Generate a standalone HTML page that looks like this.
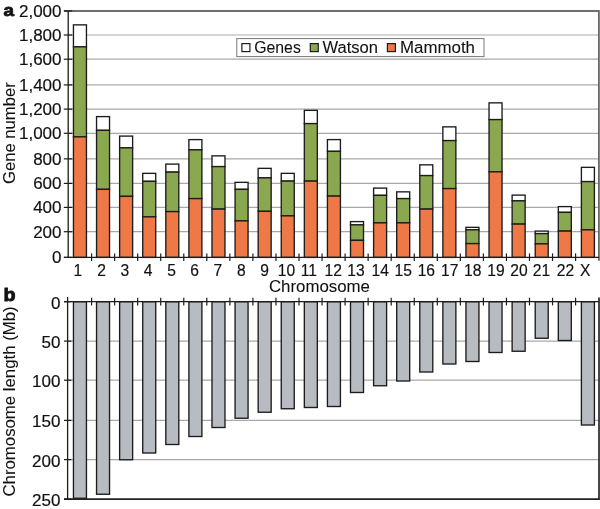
<!DOCTYPE html><html><head><meta charset="utf-8"><title>Gene number and chromosome length</title><style>html,body{margin:0;padding:0;background:#fff;overflow:hidden}svg{display:block}text{font-family:"Liberation Sans",Arial,Helvetica,sans-serif;fill:#111;stroke:#111;stroke-width:0.18px}text.t{stroke-width:0.08px}</style></head><body>
<svg width="600" height="509" viewBox="0 0 600 509">
<rect width="600" height="509" fill="#fff"/>
<line x1="68.2" y1="35.0" x2="599.2" y2="35.0" stroke="#a9a9a9" stroke-width="1.2"/>
<line x1="68.2" y1="59.2" x2="599.2" y2="59.2" stroke="#a9a9a9" stroke-width="1.2"/>
<line x1="68.2" y1="84.9" x2="599.2" y2="84.9" stroke="#a9a9a9" stroke-width="1.2"/>
<line x1="68.2" y1="109.1" x2="599.2" y2="109.1" stroke="#a9a9a9" stroke-width="1.2"/>
<line x1="68.2" y1="133.3" x2="599.2" y2="133.3" stroke="#a9a9a9" stroke-width="1.2"/>
<line x1="68.2" y1="158.85" x2="599.2" y2="158.85" stroke="#a9a9a9" stroke-width="1.2"/>
<line x1="68.2" y1="183.4" x2="599.2" y2="183.4" stroke="#a9a9a9" stroke-width="1.2"/>
<line x1="68.2" y1="207.4" x2="599.2" y2="207.4" stroke="#a9a9a9" stroke-width="1.2"/>
<line x1="68.2" y1="231.7" x2="599.2" y2="231.7" stroke="#a9a9a9" stroke-width="1.2"/>
<rect x="236.8" y="38.6" width="247.2" height="18.0" fill="#fff" stroke="#777" stroke-width="1"/>
<rect x="241.9" y="43.6" width="8" height="8" fill="#fff" stroke="#1c1c1c" stroke-width="1.2"/>
<text class="t" x="254.2" y="52.8" font-size="16" textLength="46.6" lengthAdjust="spacingAndGlyphs">Genes</text>
<rect x="310.3" y="43.6" width="8" height="8" fill="#8aa84f" stroke="#1c1c1c" stroke-width="1.2"/>
<text class="t" x="322.5" y="52.8" font-size="16" textLength="55.5" lengthAdjust="spacingAndGlyphs">Watson</text>
<rect x="387.40000000000003" y="43.6" width="8" height="8" fill="#ee7846" stroke="#1c1c1c" stroke-width="1.2"/>
<text class="t" x="400.0" y="52.8" font-size="16" textLength="75.0" lengthAdjust="spacingAndGlyphs">Mammoth</text>
<rect x="73.45" y="24.85" width="13.0" height="22.00" fill="#fff" stroke="#1c1c1c" stroke-width="1.35"/>
<rect x="73.45" y="46.85" width="13.0" height="90.00" fill="#8aa84f" stroke="#1c1c1c" stroke-width="1.35"/>
<rect x="73.45" y="136.85" width="13.0" height="120.55" fill="#ee7846" stroke="#1c1c1c" stroke-width="1.35"/>
<rect x="96.54" y="116.6" width="13.0" height="13.75" fill="#fff" stroke="#1c1c1c" stroke-width="1.35"/>
<rect x="96.54" y="130.35" width="13.0" height="59.00" fill="#8aa84f" stroke="#1c1c1c" stroke-width="1.35"/>
<rect x="96.54" y="189.35" width="13.0" height="68.05" fill="#ee7846" stroke="#1c1c1c" stroke-width="1.35"/>
<rect x="119.63" y="136.1" width="13.0" height="11.75" fill="#fff" stroke="#1c1c1c" stroke-width="1.35"/>
<rect x="119.63" y="147.85" width="13.0" height="48.50" fill="#8aa84f" stroke="#1c1c1c" stroke-width="1.35"/>
<rect x="119.63" y="196.35" width="13.0" height="61.05" fill="#ee7846" stroke="#1c1c1c" stroke-width="1.35"/>
<rect x="142.72" y="173.35" width="13.0" height="8.00" fill="#fff" stroke="#1c1c1c" stroke-width="1.35"/>
<rect x="142.72" y="181.35" width="13.0" height="35.50" fill="#8aa84f" stroke="#1c1c1c" stroke-width="1.35"/>
<rect x="142.72" y="216.85" width="13.0" height="40.55" fill="#ee7846" stroke="#1c1c1c" stroke-width="1.35"/>
<rect x="165.80" y="164.1" width="13.0" height="8.00" fill="#fff" stroke="#1c1c1c" stroke-width="1.35"/>
<rect x="165.80" y="172.1" width="13.0" height="39.50" fill="#8aa84f" stroke="#1c1c1c" stroke-width="1.35"/>
<rect x="165.80" y="211.6" width="13.0" height="45.80" fill="#ee7846" stroke="#1c1c1c" stroke-width="1.35"/>
<rect x="188.89" y="139.6" width="13.0" height="10.25" fill="#fff" stroke="#1c1c1c" stroke-width="1.35"/>
<rect x="188.89" y="149.85" width="13.0" height="48.75" fill="#8aa84f" stroke="#1c1c1c" stroke-width="1.35"/>
<rect x="188.89" y="198.6" width="13.0" height="58.80" fill="#ee7846" stroke="#1c1c1c" stroke-width="1.35"/>
<rect x="211.98" y="155.85" width="13.0" height="10.75" fill="#fff" stroke="#1c1c1c" stroke-width="1.35"/>
<rect x="211.98" y="166.6" width="13.0" height="42.50" fill="#8aa84f" stroke="#1c1c1c" stroke-width="1.35"/>
<rect x="211.98" y="209.1" width="13.0" height="48.30" fill="#ee7846" stroke="#1c1c1c" stroke-width="1.35"/>
<rect x="235.07" y="182.35" width="13.0" height="7.00" fill="#fff" stroke="#1c1c1c" stroke-width="1.35"/>
<rect x="235.07" y="189.35" width="13.0" height="31.50" fill="#8aa84f" stroke="#1c1c1c" stroke-width="1.35"/>
<rect x="235.07" y="220.85" width="13.0" height="36.55" fill="#ee7846" stroke="#1c1c1c" stroke-width="1.35"/>
<rect x="258.16" y="168.35" width="13.0" height="9.50" fill="#fff" stroke="#1c1c1c" stroke-width="1.35"/>
<rect x="258.16" y="177.85" width="13.0" height="33.50" fill="#8aa84f" stroke="#1c1c1c" stroke-width="1.35"/>
<rect x="258.16" y="211.35" width="13.0" height="46.05" fill="#ee7846" stroke="#1c1c1c" stroke-width="1.35"/>
<rect x="281.25" y="173.35" width="13.0" height="7.75" fill="#fff" stroke="#1c1c1c" stroke-width="1.35"/>
<rect x="281.25" y="181.1" width="13.0" height="34.75" fill="#8aa84f" stroke="#1c1c1c" stroke-width="1.35"/>
<rect x="281.25" y="215.85" width="13.0" height="41.55" fill="#ee7846" stroke="#1c1c1c" stroke-width="1.35"/>
<rect x="304.33" y="110.35" width="13.0" height="13.25" fill="#fff" stroke="#1c1c1c" stroke-width="1.35"/>
<rect x="304.33" y="123.6" width="13.0" height="57.50" fill="#8aa84f" stroke="#1c1c1c" stroke-width="1.35"/>
<rect x="304.33" y="181.1" width="13.0" height="76.30" fill="#ee7846" stroke="#1c1c1c" stroke-width="1.35"/>
<rect x="327.42" y="139.6" width="13.0" height="11.75" fill="#fff" stroke="#1c1c1c" stroke-width="1.35"/>
<rect x="327.42" y="151.35" width="13.0" height="44.75" fill="#8aa84f" stroke="#1c1c1c" stroke-width="1.35"/>
<rect x="327.42" y="196.1" width="13.0" height="61.30" fill="#ee7846" stroke="#1c1c1c" stroke-width="1.35"/>
<rect x="350.51" y="221.6" width="13.0" height="3.25" fill="#fff" stroke="#1c1c1c" stroke-width="1.35"/>
<rect x="350.51" y="224.85" width="13.0" height="15.50" fill="#8aa84f" stroke="#1c1c1c" stroke-width="1.35"/>
<rect x="350.51" y="240.35" width="13.0" height="17.05" fill="#ee7846" stroke="#1c1c1c" stroke-width="1.35"/>
<rect x="373.60" y="188.1" width="13.0" height="7.25" fill="#fff" stroke="#1c1c1c" stroke-width="1.35"/>
<rect x="373.60" y="195.35" width="13.0" height="27.50" fill="#8aa84f" stroke="#1c1c1c" stroke-width="1.35"/>
<rect x="373.60" y="222.85" width="13.0" height="34.55" fill="#ee7846" stroke="#1c1c1c" stroke-width="1.35"/>
<rect x="396.69" y="191.85" width="13.0" height="6.75" fill="#fff" stroke="#1c1c1c" stroke-width="1.35"/>
<rect x="396.69" y="198.6" width="13.0" height="24.25" fill="#8aa84f" stroke="#1c1c1c" stroke-width="1.35"/>
<rect x="396.69" y="222.85" width="13.0" height="34.55" fill="#ee7846" stroke="#1c1c1c" stroke-width="1.35"/>
<rect x="419.78" y="164.85" width="13.0" height="10.75" fill="#fff" stroke="#1c1c1c" stroke-width="1.35"/>
<rect x="419.78" y="175.6" width="13.0" height="33.50" fill="#8aa84f" stroke="#1c1c1c" stroke-width="1.35"/>
<rect x="419.78" y="209.1" width="13.0" height="48.30" fill="#ee7846" stroke="#1c1c1c" stroke-width="1.35"/>
<rect x="442.87" y="126.85" width="13.0" height="13.75" fill="#fff" stroke="#1c1c1c" stroke-width="1.35"/>
<rect x="442.87" y="140.6" width="13.0" height="48.00" fill="#8aa84f" stroke="#1c1c1c" stroke-width="1.35"/>
<rect x="442.87" y="188.6" width="13.0" height="68.80" fill="#ee7846" stroke="#1c1c1c" stroke-width="1.35"/>
<rect x="465.95" y="227.35" width="13.0" height="2.50" fill="#fff" stroke="#1c1c1c" stroke-width="1.35"/>
<rect x="465.95" y="229.85" width="13.0" height="13.75" fill="#8aa84f" stroke="#1c1c1c" stroke-width="1.35"/>
<rect x="465.95" y="243.6" width="13.0" height="13.80" fill="#ee7846" stroke="#1c1c1c" stroke-width="1.35"/>
<rect x="489.04" y="102.85" width="13.0" height="16.75" fill="#fff" stroke="#1c1c1c" stroke-width="1.35"/>
<rect x="489.04" y="119.6" width="13.0" height="52.25" fill="#8aa84f" stroke="#1c1c1c" stroke-width="1.35"/>
<rect x="489.04" y="171.85" width="13.0" height="85.55" fill="#ee7846" stroke="#1c1c1c" stroke-width="1.35"/>
<rect x="512.13" y="195.1" width="13.0" height="5.75" fill="#fff" stroke="#1c1c1c" stroke-width="1.35"/>
<rect x="512.13" y="200.85" width="13.0" height="23.25" fill="#8aa84f" stroke="#1c1c1c" stroke-width="1.35"/>
<rect x="512.13" y="224.1" width="13.0" height="33.30" fill="#ee7846" stroke="#1c1c1c" stroke-width="1.35"/>
<rect x="535.22" y="231.1" width="13.0" height="2.50" fill="#fff" stroke="#1c1c1c" stroke-width="1.35"/>
<rect x="535.22" y="233.6" width="13.0" height="10.25" fill="#8aa84f" stroke="#1c1c1c" stroke-width="1.35"/>
<rect x="535.22" y="243.85" width="13.0" height="13.55" fill="#ee7846" stroke="#1c1c1c" stroke-width="1.35"/>
<rect x="558.31" y="206.6" width="13.0" height="5.75" fill="#fff" stroke="#1c1c1c" stroke-width="1.35"/>
<rect x="558.31" y="212.35" width="13.0" height="18.75" fill="#8aa84f" stroke="#1c1c1c" stroke-width="1.35"/>
<rect x="558.31" y="231.1" width="13.0" height="26.30" fill="#ee7846" stroke="#1c1c1c" stroke-width="1.35"/>
<rect x="581.40" y="167.35" width="13.0" height="14.25" fill="#fff" stroke="#1c1c1c" stroke-width="1.35"/>
<rect x="581.40" y="181.6" width="13.0" height="48.25" fill="#8aa84f" stroke="#1c1c1c" stroke-width="1.35"/>
<rect x="581.40" y="229.85" width="13.0" height="27.55" fill="#ee7846" stroke="#1c1c1c" stroke-width="1.35"/>
<line x1="64" y1="10.9" x2="599.2" y2="10.9" stroke="#3c3c3c" stroke-width="1.5"/>
<line x1="598.9" y1="10.200000000000001" x2="598.9" y2="260.7" stroke="#666" stroke-width="1.8"/>
<line x1="68.2" y1="10.9" x2="68.2" y2="257.4" stroke="#1c1c1c" stroke-width="1.3"/>
<line x1="64" y1="257.4" x2="599.2" y2="257.4" stroke="#1c1c1c" stroke-width="1.3"/>
<line x1="63.8" y1="257.4" x2="72.2" y2="257.4" stroke="#1c1c1c" stroke-width="1.2"/>
<line x1="63.8" y1="231.7" x2="72.2" y2="231.7" stroke="#1c1c1c" stroke-width="1.2"/>
<line x1="63.8" y1="207.4" x2="72.2" y2="207.4" stroke="#1c1c1c" stroke-width="1.2"/>
<line x1="63.8" y1="183.4" x2="72.2" y2="183.4" stroke="#1c1c1c" stroke-width="1.2"/>
<line x1="63.8" y1="158.85" x2="72.2" y2="158.85" stroke="#1c1c1c" stroke-width="1.2"/>
<line x1="63.8" y1="133.3" x2="72.2" y2="133.3" stroke="#1c1c1c" stroke-width="1.2"/>
<line x1="63.8" y1="109.1" x2="72.2" y2="109.1" stroke="#1c1c1c" stroke-width="1.2"/>
<line x1="63.8" y1="84.9" x2="72.2" y2="84.9" stroke="#1c1c1c" stroke-width="1.2"/>
<line x1="63.8" y1="59.2" x2="72.2" y2="59.2" stroke="#1c1c1c" stroke-width="1.2"/>
<line x1="63.8" y1="35.0" x2="72.2" y2="35.0" stroke="#1c1c1c" stroke-width="1.2"/>
<line x1="63.8" y1="10.9" x2="72.2" y2="10.9" stroke="#1c1c1c" stroke-width="1.2"/>
<line x1="91.58" y1="253.4" x2="91.58" y2="261" stroke="#1c1c1c" stroke-width="1.2"/>
<line x1="114.63" y1="253.4" x2="114.63" y2="261" stroke="#1c1c1c" stroke-width="1.2"/>
<line x1="137.67" y1="253.4" x2="137.67" y2="261" stroke="#1c1c1c" stroke-width="1.2"/>
<line x1="160.72" y1="253.4" x2="160.72" y2="261" stroke="#1c1c1c" stroke-width="1.2"/>
<line x1="183.77" y1="253.4" x2="183.77" y2="261" stroke="#1c1c1c" stroke-width="1.2"/>
<line x1="206.82" y1="253.4" x2="206.82" y2="261" stroke="#1c1c1c" stroke-width="1.2"/>
<line x1="229.87" y1="253.4" x2="229.87" y2="261" stroke="#1c1c1c" stroke-width="1.2"/>
<line x1="252.91" y1="253.4" x2="252.91" y2="261" stroke="#1c1c1c" stroke-width="1.2"/>
<line x1="275.96" y1="253.4" x2="275.96" y2="261" stroke="#1c1c1c" stroke-width="1.2"/>
<line x1="299.01" y1="253.4" x2="299.01" y2="261" stroke="#1c1c1c" stroke-width="1.2"/>
<line x1="322.06" y1="253.4" x2="322.06" y2="261" stroke="#1c1c1c" stroke-width="1.2"/>
<line x1="345.11" y1="253.4" x2="345.11" y2="261" stroke="#1c1c1c" stroke-width="1.2"/>
<line x1="368.15" y1="253.4" x2="368.15" y2="261" stroke="#1c1c1c" stroke-width="1.2"/>
<line x1="391.20" y1="253.4" x2="391.20" y2="261" stroke="#1c1c1c" stroke-width="1.2"/>
<line x1="414.25" y1="253.4" x2="414.25" y2="261" stroke="#1c1c1c" stroke-width="1.2"/>
<line x1="437.30" y1="253.4" x2="437.30" y2="261" stroke="#1c1c1c" stroke-width="1.2"/>
<line x1="460.35" y1="253.4" x2="460.35" y2="261" stroke="#1c1c1c" stroke-width="1.2"/>
<line x1="483.39" y1="253.4" x2="483.39" y2="261" stroke="#1c1c1c" stroke-width="1.2"/>
<line x1="506.44" y1="253.4" x2="506.44" y2="261" stroke="#1c1c1c" stroke-width="1.2"/>
<line x1="529.49" y1="253.4" x2="529.49" y2="261" stroke="#1c1c1c" stroke-width="1.2"/>
<line x1="552.54" y1="253.4" x2="552.54" y2="261" stroke="#1c1c1c" stroke-width="1.2"/>
<line x1="575.59" y1="253.4" x2="575.59" y2="261" stroke="#1c1c1c" stroke-width="1.2"/>
<text x="61.50" y="263.30" font-size="17.0" text-anchor="end">0</text>
<text x="61.50" y="237.60" font-size="17.0" text-anchor="end">200</text>
<text x="61.50" y="213.30" font-size="17.0" text-anchor="end">400</text>
<text x="61.50" y="189.30" font-size="17.0" text-anchor="end">600</text>
<text x="61.50" y="164.75" font-size="17.0" text-anchor="end">800</text>
<text x="61.50" y="139.20" font-size="17.0" text-anchor="end">1,000</text>
<text x="61.50" y="115.00" font-size="17.0" text-anchor="end">1,200</text>
<text x="61.50" y="90.80" font-size="17.0" text-anchor="end">1,400</text>
<text x="61.50" y="65.10" font-size="17.0" text-anchor="end">1,600</text>
<text x="61.50" y="40.90" font-size="17.0" text-anchor="end">1,800</text>
<text x="61.50" y="16.80" font-size="17.0" text-anchor="end">2,000</text>
<text transform="translate(73.44,275.60) scale(0.920,1)" font-size="17.0">1</text>
<text transform="translate(97.15,275.60) scale(0.920,1)" font-size="17.0">2</text>
<text transform="translate(120.45,275.60) scale(0.920,1)" font-size="17.0">3</text>
<text transform="translate(143.80,275.60) scale(0.920,1)" font-size="17.0">4</text>
<text transform="translate(167.17,275.60) scale(0.920,1)" font-size="17.0">5</text>
<text transform="translate(190.35,275.60) scale(0.920,1)" font-size="17.0">6</text>
<text transform="translate(213.54,275.60) scale(0.920,1)" font-size="17.0">7</text>
<text transform="translate(236.90,275.60) scale(0.920,1)" font-size="17.0">8</text>
<text transform="translate(260.25,275.60) scale(0.920,1)" font-size="17.0">9</text>
<text transform="translate(277.71,275.60) scale(0.920,1)" font-size="17.0">10</text>
<text transform="translate(300.79,275.60) scale(0.920,1)" font-size="17.0">11</text>
<text transform="translate(324.60,275.60) scale(0.920,1)" font-size="17.0">12</text>
<text transform="translate(347.25,275.60) scale(0.920,1)" font-size="17.0">13</text>
<text transform="translate(371.54,275.60) scale(0.920,1)" font-size="17.0">14</text>
<text transform="translate(394.43,275.60) scale(0.920,1)" font-size="17.0">15</text>
<text transform="translate(417.65,275.60) scale(0.920,1)" font-size="17.0">16</text>
<text transform="translate(441.05,275.60) scale(0.920,1)" font-size="17.0">17</text>
<text transform="translate(463.95,275.60) scale(0.920,1)" font-size="17.0">18</text>
<text transform="translate(487.33,275.60) scale(0.920,1)" font-size="17.0">19</text>
<text transform="translate(510.21,275.60) scale(0.920,1)" font-size="17.0">20</text>
<text transform="translate(532.74,275.60) scale(0.920,1)" font-size="17.0">21</text>
<text transform="translate(556.70,275.60) scale(0.920,1)" font-size="17.0">22</text>
<text transform="translate(580.07,275.60) scale(0.920,1)" font-size="17.0">X</text>
<text class="t" x="268.9" y="292.2" font-size="16" textLength="101.1" lengthAdjust="spacingAndGlyphs">Chromosome</text>
<text class="t" transform="translate(14.9,184) rotate(-90)" font-size="16.3" textLength="101.8" lengthAdjust="spacingAndGlyphs">Gene number</text>
<text transform="translate(3.40,15.90) scale(1.090,1)" font-size="17.3" font-weight="bold" style="stroke-width:0.8px">a</text>
<line x1="67.6" y1="341.1" x2="599.2" y2="341.1" stroke="#a9a9a9" stroke-width="1.2"/>
<line x1="67.6" y1="380.2" x2="599.2" y2="380.2" stroke="#a9a9a9" stroke-width="1.2"/>
<line x1="67.6" y1="420.4" x2="599.2" y2="420.4" stroke="#a9a9a9" stroke-width="1.2"/>
<line x1="67.6" y1="459.6" x2="599.2" y2="459.6" stroke="#a9a9a9" stroke-width="1.2"/>
<rect x="73.45" y="301.7" width="13.0" height="196.55" fill="#b7bcc3" stroke="#1c1c1c" stroke-width="1.35"/>
<rect x="96.54" y="301.7" width="13.0" height="192.55" fill="#b7bcc3" stroke="#1c1c1c" stroke-width="1.35"/>
<rect x="119.63" y="301.7" width="13.0" height="158.05" fill="#b7bcc3" stroke="#1c1c1c" stroke-width="1.35"/>
<rect x="142.72" y="301.7" width="13.0" height="151.30" fill="#b7bcc3" stroke="#1c1c1c" stroke-width="1.35"/>
<rect x="165.80" y="301.7" width="13.0" height="142.80" fill="#b7bcc3" stroke="#1c1c1c" stroke-width="1.35"/>
<rect x="188.89" y="301.7" width="13.0" height="134.80" fill="#b7bcc3" stroke="#1c1c1c" stroke-width="1.35"/>
<rect x="211.98" y="301.7" width="13.0" height="125.80" fill="#b7bcc3" stroke="#1c1c1c" stroke-width="1.35"/>
<rect x="235.07" y="301.7" width="13.0" height="116.55" fill="#b7bcc3" stroke="#1c1c1c" stroke-width="1.35"/>
<rect x="258.16" y="301.7" width="13.0" height="110.55" fill="#b7bcc3" stroke="#1c1c1c" stroke-width="1.35"/>
<rect x="281.25" y="301.7" width="13.0" height="107.05" fill="#b7bcc3" stroke="#1c1c1c" stroke-width="1.35"/>
<rect x="304.33" y="301.7" width="13.0" height="105.80" fill="#b7bcc3" stroke="#1c1c1c" stroke-width="1.35"/>
<rect x="327.42" y="301.7" width="13.0" height="104.80" fill="#b7bcc3" stroke="#1c1c1c" stroke-width="1.35"/>
<rect x="350.51" y="301.7" width="13.0" height="90.80" fill="#b7bcc3" stroke="#1c1c1c" stroke-width="1.35"/>
<rect x="373.60" y="301.7" width="13.0" height="84.05" fill="#b7bcc3" stroke="#1c1c1c" stroke-width="1.35"/>
<rect x="396.69" y="301.7" width="13.0" height="79.30" fill="#b7bcc3" stroke="#1c1c1c" stroke-width="1.35"/>
<rect x="419.78" y="301.7" width="13.0" height="70.30" fill="#b7bcc3" stroke="#1c1c1c" stroke-width="1.35"/>
<rect x="442.87" y="301.7" width="13.0" height="62.30" fill="#b7bcc3" stroke="#1c1c1c" stroke-width="1.35"/>
<rect x="465.95" y="301.7" width="13.0" height="59.80" fill="#b7bcc3" stroke="#1c1c1c" stroke-width="1.35"/>
<rect x="489.04" y="301.7" width="13.0" height="50.80" fill="#b7bcc3" stroke="#1c1c1c" stroke-width="1.35"/>
<rect x="512.13" y="301.7" width="13.0" height="49.55" fill="#b7bcc3" stroke="#1c1c1c" stroke-width="1.35"/>
<rect x="535.22" y="301.7" width="13.0" height="36.55" fill="#b7bcc3" stroke="#1c1c1c" stroke-width="1.35"/>
<rect x="558.31" y="301.7" width="13.0" height="38.80" fill="#b7bcc3" stroke="#1c1c1c" stroke-width="1.35"/>
<rect x="581.40" y="301.7" width="13.0" height="123.30" fill="#b7bcc3" stroke="#1c1c1c" stroke-width="1.35"/>
<line x1="64" y1="301.7" x2="599.2" y2="301.7" stroke="#1c1c1c" stroke-width="1.3"/>
<line x1="67.6" y1="297" x2="67.6" y2="499.1" stroke="#1c1c1c" stroke-width="1.3"/>
<line x1="64" y1="499.1" x2="599.8" y2="499.1" stroke="#222" stroke-width="1.6"/>
<line x1="599" y1="297.5" x2="599" y2="499.90000000000003" stroke="#262626" stroke-width="1.7"/>
<line x1="64" y1="301.7" x2="71.4" y2="301.7" stroke="#1c1c1c" stroke-width="1.2"/>
<line x1="64" y1="341.1" x2="71.4" y2="341.1" stroke="#1c1c1c" stroke-width="1.2"/>
<line x1="64" y1="380.2" x2="71.4" y2="380.2" stroke="#1c1c1c" stroke-width="1.2"/>
<line x1="64" y1="420.4" x2="71.4" y2="420.4" stroke="#1c1c1c" stroke-width="1.2"/>
<line x1="64" y1="459.6" x2="71.4" y2="459.6" stroke="#1c1c1c" stroke-width="1.2"/>
<line x1="64" y1="499.1" x2="71.4" y2="499.1" stroke="#1c1c1c" stroke-width="1.2"/>
<line x1="91.58" y1="297.7" x2="91.58" y2="305.4" stroke="#1c1c1c" stroke-width="1.2"/>
<line x1="114.63" y1="297.7" x2="114.63" y2="305.4" stroke="#1c1c1c" stroke-width="1.2"/>
<line x1="137.67" y1="297.7" x2="137.67" y2="305.4" stroke="#1c1c1c" stroke-width="1.2"/>
<line x1="160.72" y1="297.7" x2="160.72" y2="305.4" stroke="#1c1c1c" stroke-width="1.2"/>
<line x1="183.77" y1="297.7" x2="183.77" y2="305.4" stroke="#1c1c1c" stroke-width="1.2"/>
<line x1="206.82" y1="297.7" x2="206.82" y2="305.4" stroke="#1c1c1c" stroke-width="1.2"/>
<line x1="229.87" y1="297.7" x2="229.87" y2="305.4" stroke="#1c1c1c" stroke-width="1.2"/>
<line x1="252.91" y1="297.7" x2="252.91" y2="305.4" stroke="#1c1c1c" stroke-width="1.2"/>
<line x1="275.96" y1="297.7" x2="275.96" y2="305.4" stroke="#1c1c1c" stroke-width="1.2"/>
<line x1="299.01" y1="297.7" x2="299.01" y2="305.4" stroke="#1c1c1c" stroke-width="1.2"/>
<line x1="322.06" y1="297.7" x2="322.06" y2="305.4" stroke="#1c1c1c" stroke-width="1.2"/>
<line x1="345.11" y1="297.7" x2="345.11" y2="305.4" stroke="#1c1c1c" stroke-width="1.2"/>
<line x1="368.15" y1="297.7" x2="368.15" y2="305.4" stroke="#1c1c1c" stroke-width="1.2"/>
<line x1="391.20" y1="297.7" x2="391.20" y2="305.4" stroke="#1c1c1c" stroke-width="1.2"/>
<line x1="414.25" y1="297.7" x2="414.25" y2="305.4" stroke="#1c1c1c" stroke-width="1.2"/>
<line x1="437.30" y1="297.7" x2="437.30" y2="305.4" stroke="#1c1c1c" stroke-width="1.2"/>
<line x1="460.35" y1="297.7" x2="460.35" y2="305.4" stroke="#1c1c1c" stroke-width="1.2"/>
<line x1="483.39" y1="297.7" x2="483.39" y2="305.4" stroke="#1c1c1c" stroke-width="1.2"/>
<line x1="506.44" y1="297.7" x2="506.44" y2="305.4" stroke="#1c1c1c" stroke-width="1.2"/>
<line x1="529.49" y1="297.7" x2="529.49" y2="305.4" stroke="#1c1c1c" stroke-width="1.2"/>
<line x1="552.54" y1="297.7" x2="552.54" y2="305.4" stroke="#1c1c1c" stroke-width="1.2"/>
<line x1="575.59" y1="297.7" x2="575.59" y2="305.4" stroke="#1c1c1c" stroke-width="1.2"/>
<text x="60.40" y="308.70" font-size="17.0" text-anchor="end">0</text>
<text x="60.40" y="348.10" font-size="17.0" text-anchor="end">50</text>
<text x="60.40" y="387.20" font-size="17.0" text-anchor="end">100</text>
<text x="60.40" y="427.40" font-size="17.0" text-anchor="end">150</text>
<text x="60.40" y="466.60" font-size="17.0" text-anchor="end">200</text>
<text x="60.40" y="506.10" font-size="17.0" text-anchor="end">250</text>
<text class="t" transform="translate(15.2,496.5) rotate(-90)" font-size="16.3" textLength="190.1" lengthAdjust="spacingAndGlyphs">Chromosome length (Mb)</text>
<text transform="translate(3.40,300.80) scale(1.100,1)" font-size="18" font-weight="bold" style="stroke-width:0.8px">b</text>
</svg></body></html>
